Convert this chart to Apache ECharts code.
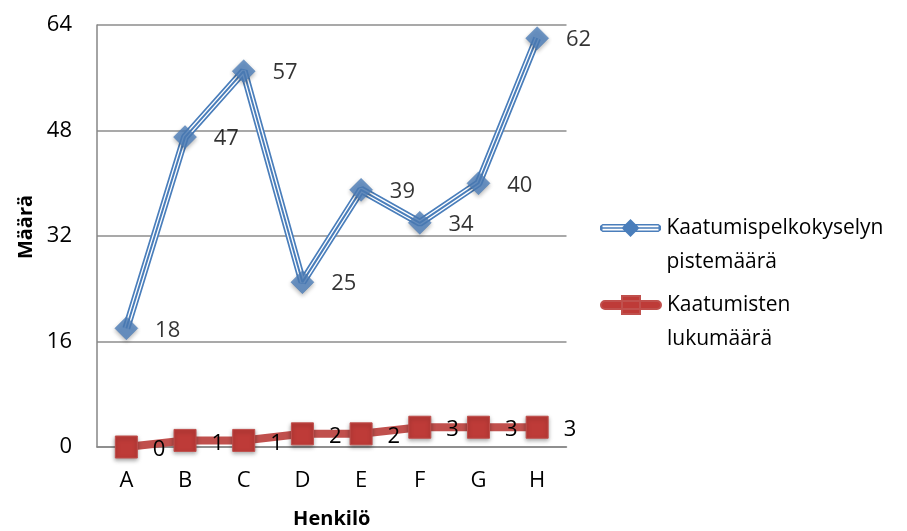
<!DOCTYPE html>
<html>
<head>
<meta charset="utf-8">
<script src="https://cdn.jsdelivr.net/npm/echarts@6/dist/echarts.min.js"></script>
<style>
  html, body { margin: 0; padding: 0; background: #ffffff; }
  #chart { width: 907px; height: 531px; }
</style>
</head>
<body>
<div id="chart"></div>
<script>
// Henkilöt A–H: kaatumispelin kyselypisteet ja kaatumisten määrä
const henkilot = ['A', 'B', 'C', 'D', 'E', 'F', 'G', 'H'];
const pistemaara = [18, 47, 57, 25, 39, 34, 40, 62];
const kaatumiset = [0, 1, 1, 2, 2, 3, 3, 3];
const yTicks = [0, 16, 32, 48, 64];

const nimiPisteet = 'Kaatumispelkokyselyn pistemäärä';
const nimiKaatumiset = 'Kaatumisten lukumäärä';

const FONT = '"Open Sans", Lato, sans-serif';
const TEXT = '#000000';
const BLUE = '#4A7EBB';
const BLUE_MARK = '#4F81BD';
const RED = '#C0504D';
const RED_MARK = '#BE3B38';

// legend icons: triple blue line with a diamond, thick red bar with a square
const iconPisteet = 'path://M3,5L59,5L59,6.5L3,6.5Z M3,11.5L59,11.5L59,13L3,13Z M3,8.2L59,8.2L59,9.8L3,9.8Z ' +
  'M0.5,7L3,5L3,13L0.5,11Z M61.5,7L59,5L59,13L61.5,11Z M31,0L40,9L31,18L22,9Z';
const iconKaatumiset = 'path://M5,5L57,5A4,4 0 0 1 57,13L5,13A4,4 0 0 1 5,5Z M22,0L40,0L40,18L22,18Z';

const LINE_H = 34;
const legendText = { fontFamily: FONT, fontSize: 21, color: TEXT, lineHeight: LINE_H };
// leading empty line keeps the icon level with the first text row
const wrap = {
  [nimiPisteet]: '\nKaatumispelkokyselyn\npistemäärä',
  [nimiKaatumiset]: '\nKaatumisten\nlukumäärä'
};

const chart = echarts.init(document.getElementById('chart'), null, { renderer: 'canvas' });

chart.setOption({
  animation: false,
  backgroundColor: '#ffffff',
  grid: { left: 97, right: 340.5, top: 25, bottom: 84, containLabel: false, outerBoundsMode: 'none' },
  legend: [
    {
      orient: 'vertical', left: 600, top: 228 - 1.5 * LINE_H, padding: 0,
      itemWidth: 62, itemHeight: 18,
      data: [{ name: nimiPisteet, icon: iconPisteet }],
      formatter: n => wrap[n], textStyle: legendText, selectedMode: false
    },
    {
      orient: 'vertical', left: 600, top: 305 - 1.5 * LINE_H, padding: 0,
      itemWidth: 62, itemHeight: 18,
      data: [{ name: nimiKaatumiset, icon: iconKaatumiset }],
      formatter: n => wrap[n], textStyle: legendText, selectedMode: false
    }
  ],
  xAxis: {
    type: 'category', data: henkilot, boundaryGap: true,
    name: 'Henkilö', nameLocation: 'middle', nameGap: 62,
    nameTextStyle: { fontFamily: FONT, fontSize: 20, fontWeight: 'bold', color: TEXT },
    axisLine: { lineStyle: { color: '#868686', width: 1.5 } },
    axisTick: { show: false },
    axisLabel: { fontFamily: FONT, fontSize: 22, color: TEXT, margin: 23 }
  },
  yAxis: {
    type: 'value', min: yTicks[0], max: yTicks[yTicks.length - 1], interval: yTicks[1] - yTicks[0],
    name: 'Määrä', nameLocation: 'middle', nameGap: 57, nameRotate: 90,
    nameTextStyle: { fontFamily: FONT, fontSize: 20, fontWeight: 'bold', color: TEXT, padding: [0, 0, 0, 18] },
    axisLine: { show: true, lineStyle: { color: '#868686', width: 1.5 } },
    axisTick: { show: false },
    axisLabel: { fontFamily: FONT, fontSize: 22, color: TEXT, margin: 25 },
    splitLine: { lineStyle: { color: '#8C8C8C', width: 1.5 } }
  },
  series: [
    {
      name: nimiPisteet, type: 'line', data: pistemaara, color: BLUE,
      symbol: 'none', z: 2, silent: true,
      lineStyle: { color: BLUE, width: 8 }
    },
    {
      name: 'pisteetValiviiva', type: 'line', data: pistemaara,
      symbol: 'none', z: 3, silent: true,
      lineStyle: { color: '#ffffff', width: 4.6 }
    },
    {
      name: 'pisteetKeskiviiva', type: 'line', data: pistemaara,
      symbol: 'none', z: 4, silent: true,
      lineStyle: { color: BLUE, width: 2 }
    },
    {
      name: nimiPisteet, type: 'scatter', data: pistemaara,
      symbol: 'diamond', symbolSize: 23, z: 5,
      itemStyle: {
        color: BLUE_MARK, borderColor: '#4072AE', borderWidth: 0.5,
        shadowBlur: 4, shadowColor: 'rgba(0,0,0,0.35)', shadowOffsetY: 2
      },
      label: {
        show: true, position: 'right', distance: 17, offset: [0, 2],
        fontFamily: FONT, fontSize: 22, color: TEXT
      }
    },
    {
      name: nimiKaatumiset, type: 'line', data: kaatumiset, color: RED,
      symbol: 'rect', symbolSize: 22, showAllSymbol: true, z: 6,
      lineStyle: { color: RED, width: 8 },
      itemStyle: {
        color: RED_MARK, borderColor: RED, borderWidth: 1,
        shadowBlur: 4, shadowColor: 'rgba(0,0,0,0.35)', shadowOffsetY: 2
      },
      label: {
        show: true, position: 'right', distance: 15, offset: [0, 3],
        fontFamily: FONT, fontSize: 22, color: TEXT
      }
    }
  ]
});
</script>
</body>
</html>
